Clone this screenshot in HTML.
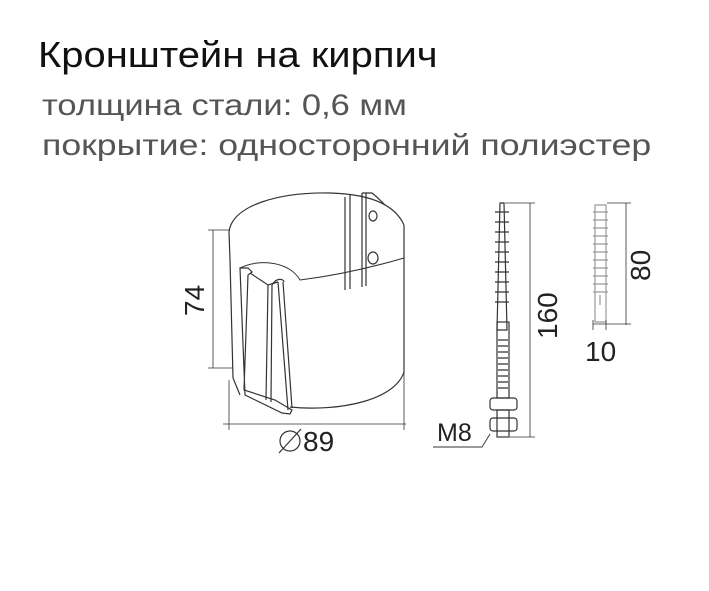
<!DOCTYPE html>
<html><head><meta charset="utf-8"><style>
body{margin:0;width:709px;height:591px;background:#fff;overflow:hidden;position:relative;font-family:"Liberation Sans",sans-serif}
.t{position:absolute;white-space:nowrap;line-height:1;transform-origin:left top}
</style></head><body>
<div class="t" style="left:38px;top:37px;font-size:36px;color:#111;transform:scaleX(1.11)">Кронштейн на кирпич</div>
<div class="t" style="left:42px;top:91px;font-size:30px;color:#555;transform:scaleX(1.15)">толщина стали: 0,6 мм</div>
<div class="t" style="left:42px;top:131px;font-size:30px;color:#555;transform:scaleX(1.19)">покрытие: односторонний полиэстер</div>
<svg width="709" height="591" style="position:absolute;left:0;top:0" fill="none" stroke="#333" stroke-width="1.2">
<path d="M229,232 C232,205 280,192 330,193 C370,194 395,205 404,225"/>
<path d="M229,232 L230,260 L233,378"/>
<path d="M404,225 L404,372 C395,400 340,412 290,407"/>
<path d="M233,378 L240,395"/>
<path d="M240,268 C260,258 290,262 300,280 C340,275 380,265 404,258" stroke-width="1"/>
<path d="M240,268 L248,268 L252,272 L248,275 L244,390 L275,400 L292,410 L290,414 L282,413 L245,395 Z"/>
<path d="M268,285 L266,400 M272,285 L271,402 M278,282 L288,410 M283,282 L292,408 M250,273 L268,285 L278,282"/>
<path d="M272,285 C276,278 283,278 284,282"/>
<path d="M345,197 L345,290 M350,195 L350,289 M362,193 L362,287 M366,193 L366,286 M362,193 L372,193 C376,196 380,200 385,205"/>
<ellipse cx="373" cy="216" rx="4" ry="5"/><ellipse cx="373" cy="258" rx="5" ry="6"/>
<path d="M213,230 L213,368 M208,230 L229,230 M208,368 L233,368" stroke-width="0.8"/>
<path d="M223,424 L406,424 M229,380 L229,430 M404,372 L404,430" stroke-width="0.8"/>
<circle cx="290" cy="441" r="10"/><path d="M279,453 L301,429"/>
<path d="M500,203 L504,203 L507,330 L497,330 Z M495,212 L509,212 M495,222 L509,222 M495,232 L509,232 M495,242 L509,242 M495,252 L509,252 M495,262 L509,262 M495,272 L509,272 M495,282 L509,282 M495,292 L509,292 M495,302 L509,302"/>
<rect x="497" y="322" width="12" height="76"/>
<path d="M498,340 L508,340 M498,346 L508,346 M498,352 L508,352 M498,358 L508,358 M498,364 L508,364 M498,370 L508,370 M498,376 L508,376 M498,382 L508,382 M498,388 L508,388"/>
<rect x="490" y="398" width="27" height="12" rx="3"/>
<rect x="490" y="418" width="27" height="13" rx="3"/>
<rect x="497" y="410" width="12" height="27"/>
<path d="M505,203 L535,203 M530,203 L530,437 M510,437 L535,437" stroke-width="0.8"/>
<path d="M433,447 L482,447 L490,434" stroke-width="0.9"/>
<path d="M595,205 L606,205 L606,322 L595,322 Z" stroke="#999"/>
<path d="M593,212 L608,212 M593,220 L608,220 M593,228 L608,228 M593,236 L608,236 M593,244 L608,244 M593,252 L608,252 M593,260 L608,260 M593,268 L608,268 M593,276 L608,276 M593,284 L608,284 M593,292 L608,292 M600,295 L600,305" stroke="#999"/>
<path d="M607,203 L631,203 M626,203 L626,325 M593,324 L631,324 M593,320 L593,330 M606,320 L606,330" stroke-width="0.8"/>
</svg>
<div class="t" style="left:181px;top:316px;font-size:28px;color:#222;transform:rotate(-90deg)">74</div>
<div class="t" style="left:303px;top:428px;font-size:28px;color:#222">89</div>
<div class="t" style="left:437px;top:421px;font-size:25px;color:#222">M8</div>
<div class="t" style="left:534px;top:339px;font-size:28px;color:#222;transform:rotate(-90deg)">160</div>
<div class="t" style="left:627px;top:281px;font-size:28px;color:#222;transform:rotate(-90deg)">80</div>
<div class="t" style="left:585px;top:338px;font-size:28px;color:#222">10</div>
</body></html>
